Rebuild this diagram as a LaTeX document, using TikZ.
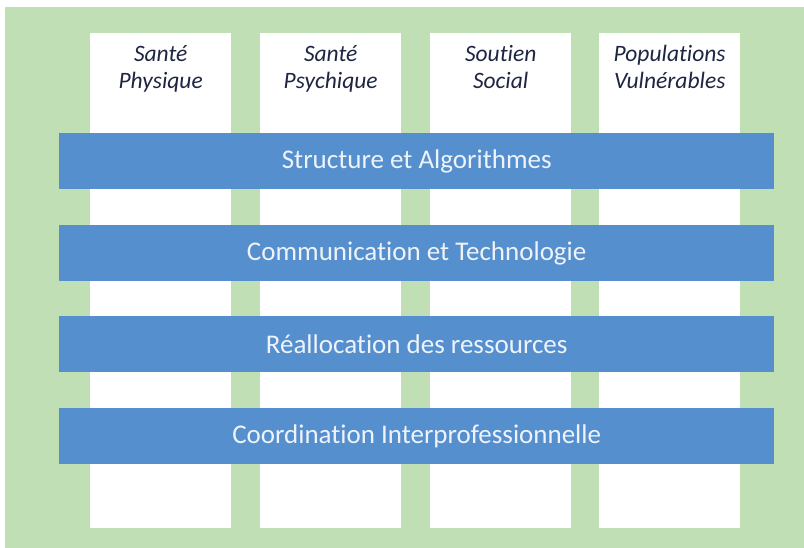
\documentclass[tikz,border=0pt]{standalone}
\usepackage{fontspec}
\setmainfont{Carlito}[Ligatures=NoCommon]
\definecolor{pagegreen}{HTML}{C1DFB4}
\definecolor{barblue}{HTML}{568FCE}
\definecolor{headink}{HTML}{1E2642}
\definecolor{barink}{HTML}{EEF3FA}
\begin{document}
\begin{tikzpicture}[x=1pt,y=-1pt,
  pillar/.style={fill=white, draw=none, anchor=north west, minimum width=141pt, minimum height=495pt, inner sep=0pt},
  pillarhead/.style={anchor=base, align=center, inner sep=0pt, text=headink,
    font=\fontsize{23.5}{27.5}\selectfont\itshape},
  layer/.style={fill=barblue, draw=none, anchor=north west, minimum width=715pt, minimum height=56pt, inner sep=0pt,
    text=barink, font=\fontsize{27}{32}\selectfont}]
  \useasboundingbox (0,0) rectangle (804,548);
  \fill[white] (0,0) rectangle (804,548);
  \fill[pagegreen] (5,7) rectangle (804,548);

  % the four pillars
  \node[pillar] (p1) at (90,33) {};
  \node[pillar] (p2) at (260,33) {};
  \node[pillar] (p3) at (430,33) {};
  \node[pillar] (p4) at (599,33) {};

  % pillar titles (base anchor sits on the second line)
  \node[pillarhead] (h1) at ([yshift=-56pt]p1.north) {Santé\\Physique};
  \node[pillarhead] (h2) at ([yshift=-56pt]p2.north) {Santé\\Psychique};
  \node[pillarhead] (h3) at ([yshift=-56pt]p3.north) {Soutien\\Social};
  \node[pillarhead] (h4) at ([yshift=-56pt]p4.north) {Populations\\Vulnérables};

  % the cross-cutting layers
  \node[layer] (l1) at (59,133) {Structure et Algorithmes};
  \node[layer] (l2) at (59,225) {Communication et Technologie};
  \node[layer] (l3) at (59,316) {Réallocation des ressources};
  \node[layer] (l4) at (59,408) {Coordination Interprofessionnelle};
\end{tikzpicture}
\end{document}
